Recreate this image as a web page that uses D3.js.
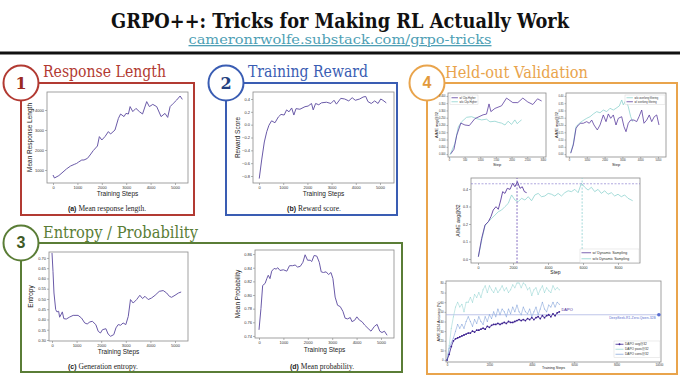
<!DOCTYPE html>
<html>
<head>
<meta charset="utf-8">
<script src="https://cdn.jsdelivr.net/npm/d3@7"></script>
<style>
body { margin: 0; background: #fff; }
svg { display: block; }
</style>
</head>
<body>
<svg id="chart" width="680" height="380"></svg>
<script>
// ---------- data ----------
const titleText = "GRPO++: Tricks for Making RL Actually Work";
const linkText = "cameronrwolfe.substack.com/grpo-tricks";

// (a) mean response length
const lenSteps = [0,60,240,410,550,720,870,970,1050,1180,1270,1410,1520,1650,1820,1900,2000,2130,2270,2360,2540,2680,2770,2910,2990,3090,3160,3270,3400,3540,3670,3840,3950,4090,4250,4430,4590,4700,4800,4930,5070,5210,5300];
const lenValues = [750,600,720,900,1050,1200,1280,1330,1400,1500,1500,1580,1750,1970,2200,2670,2500,2670,2920,2800,3000,3580,3800,3670,3830,3800,4170,3920,4080,3920,3800,4420,4170,4280,4170,3670,3830,3630,4170,4330,4500,4700,4530];

// (b) reward score
const rewSteps = [10,110,220,320,410,520,660,800,910,1040,1140,1240,1350,1440,1530,1690,1900,2030,2170,2240,2340,2470,2580,2790,2970,3100,3200,3380,3540,3710,3850,3980,4160,4300,4410,4500,4640,4780,4920,5030,5120,5260];
const rewValues = [-0.84,-0.55,-0.27,-0.11,-0.01,0.06,0.03,0.12,0.16,0.15,0.23,0.20,0.26,0.15,0.25,0.24,0.28,0.29,0.33,0.23,0.33,0.31,0.34,0.35,0.33,0.38,0.32,0.41,0.40,0.37,0.42,0.38,0.40,0.43,0.44,0.36,0.33,0.37,0.33,0.40,0.38,0.34];

// (c) generation entropy
const entSteps = [0,40,80,150,200,270,310,380,420,480,580,720,860,1060,1200,1330,1430,1540,1640,1780,1880,1970,2050,2190,2280,2380,2510,2600,2690,2790,2890,3000,3100,3190,3300,3440,3570,3680,3780,3910,4050,4190,4360,4520,4660,4770,4860,5000,5140,5250];
const entValues = [0.724,0.635,0.529,0.448,0.437,0.440,0.411,0.427,0.437,0.404,0.402,0.412,0.420,0.420,0.407,0.383,0.378,0.388,0.391,0.375,0.342,0.334,0.350,0.355,0.329,0.318,0.326,0.359,0.375,0.372,0.383,0.375,0.415,0.497,0.480,0.497,0.518,0.502,0.513,0.497,0.505,0.518,0.537,0.541,0.529,0.513,0.508,0.518,0.529,0.534];

// (d) mean probability
const probSteps = [0,80,150,250,320,380,450,520,620,700,770,860,1000,1140,1250,1380,1480,1580,1690,1800,1890,1990,2100,2160,2260,2370,2470,2550,2640,2750,2850,2950,3030,3120,3220,3330,3440,3530,3630,3740,3810,3920,4010,4120,4220,4330,4470,4590,4730,4840,4950,5040,5140,5250];
const probValues = [0.749,0.780,0.814,0.817,0.824,0.829,0.824,0.835,0.839,0.838,0.840,0.836,0.837,0.835,0.843,0.843,0.844,0.841,0.842,0.848,0.859,0.851,0.851,0.849,0.858,0.857,0.848,0.834,0.833,0.834,0.830,0.833,0.824,0.797,0.785,0.783,0.776,0.766,0.765,0.767,0.761,0.763,0.768,0.763,0.761,0.756,0.751,0.747,0.754,0.757,0.747,0.745,0.747,0.741];

// held-out: clip higher
const clipOnSteps = [60,160,250,380,510,650,830,1090,1200,1280,1340,1470,1680,1840,2040,2200,2360,2520,2680,2830,2960];
const clipOnValues = [0.002,0.033,0.130,0.213,0.200,0.196,0.244,0.270,0.275,0.345,0.292,0.314,0.332,0.385,0.354,0.354,0.385,0.358,0.341,0.380,0.365];
const clipOffSteps = [30,190,300,405,565,725,885,1045,1200,1310,1470,1575,1680,1790,1890,2000,2105,2180,2265,2320];
const clipOffValues = [-0.007,0.072,0.187,0.222,0.253,0.257,0.244,0.235,0.240,0.222,0.226,0.218,0.213,0.200,0.226,0.204,0.235,0.209,0.226,0.235];

// held-out: overlong filtering
const olOnSteps = [96,242,393,522,657,803,994,1140,1275,1404,1590,1742,1927,2079,2208,2343,2489,2640,2770,2960,3090,3202,3331,3466,3652,3803,3933,4084,4213,4365,4511,4646,4792,4927,5056];
const olOnValues = [0.006,0.063,0.177,0.200,0.212,0.212,0.223,0.212,0.234,0.200,0.166,0.200,0.269,0.223,0.276,0.246,0.269,0.200,0.246,0.257,0.188,0.154,0.212,0.234,0.234,0.223,0.257,0.303,0.212,0.234,0.269,0.223,0.257,0.269,0.200];
const olOffSteps = [96,242,393,579,770,994,1180,1365,1556,1742,1927,2118,2303,2489,2640,2826,2961,3051,3202,3331,3466,3579];
const olOffValues = [0.009,0.074,0.188,0.212,0.229,0.246,0.257,0.276,0.292,0.284,0.303,0.292,0.315,0.303,0.315,0.331,0.372,0.338,0.372,0.326,0.257,0.223];

// held-out: dynamic sampling
const dsOnSteps = [20,210,400,590,740,870,1030,1160,1300,1410,1540,1675,1830,1980,2110,2250,2400,2530,2650,2780];
const dsOnValues = [0.013,0.118,0.194,0.213,0.242,0.280,0.299,0.284,0.337,0.385,0.375,0.404,0.398,0.433,0.413,0.442,0.404,0.413,0.385,0.379];
const dsOffSteps = [20,210,400,590,780,970,1160,1350,1540,1730,1920,2110,2300,2490,2680,2870,3060,3250,3440,3630,3820,4010,4200,4390,4580,4770,4960,5150,5340,5530,5720,5910,6100,6290,6480,6670,6860,7050,7240,7430,7620,7810,8000,8190,8380,8570,8840];
const dsOffValues = [0.013,0.107,0.190,0.213,0.232,0.251,0.270,0.280,0.299,0.318,0.366,0.337,0.328,0.347,0.337,0.356,0.333,0.366,0.375,0.356,0.360,0.375,0.370,0.360,0.375,0.360,0.379,0.390,0.385,0.398,0.379,0.433,0.410,0.394,0.410,0.385,0.398,0.375,0.390,0.370,0.379,0.360,0.370,0.356,0.366,0.347,0.333];
const dsBestLevel = 0.43, dsOnBestStep = 2230, dsOffBestStep = 5950;

// DAPO accuracy (%)
const dapoSteps = [0,100,200,300,400,500,600,700,800,900,1000,1100,1200,1300,1400,1500,1600,1700,1800,1900,2000,2100,2200,2300,2400,2500,2600,2700,2800,2900,3000,3100,3200,3300,3400,3500,3600,3700,3800,3900,4000,4100,4200,4300,4400,4500,4600,4700,4800,4900,5000,5100,5200,5300];
const dapoAvg = [0,6,14,20,22,23,24,25,26,27,28,28,30,29,31,31,32,33,32,35,34,36,37,37,38,37,38,39,38,40,39,39,40,41,42,41,42,41,43,42,44,42,44,45,43,46,44,46,47,45,48,46,49,50];
const dapoPass = [0,15,33,45,55,60,55,58,50,60,60,65,60,68,65,70,65,73,77,70,77,73,70,75,70,73,77,72,75,70,73,78,75,80,80,75,80,78,73,75,67,73,75,68,73,77,70,75,72,70,77,73,75,73];
const dapoCons = [0,12,18,23,30,37,33,37,33,40,45,40,35,42,38,45,40,37,45,40,47,43,50,45,53,47,53,50,45,53,48,55,50,57,50,47,55,50,48,53,45,50,55,47,53,60,53,50,57,55,60,55,60,58];
const r1ZeroLevel = 47;

// ---------- drawing ----------
const svg = d3.select("#chart");
const SANS = "'Liberation Sans', Arial, sans-serif";
const SLAB = "'DejaVu Serif', serif";
const ROMAN = "'Liberation Serif', 'Times New Roman', serif";
const lineCol = "#6a5aa8", purple = "#5b3d9e", teal = "#8fd3cf";

svg.append("rect").attr("width", 680).attr("height", 380).attr("fill", "#fff");

// header
svg.append("text")
    .attr("x", 340).attr("y", 28)
    .attr("text-anchor", "middle")
    .attr("textLength", 458).attr("lengthAdjust", "spacingAndGlyphs")
    .style("font-family", SLAB).style("font-weight", "bold").style("font-size", "21px")
    .attr("fill", "#111")
    .text(titleText);
svg.append("text")
    .attr("x", 340).attr("y", 44)
    .attr("text-anchor", "middle")
    .attr("textLength", 303).attr("lengthAdjust", "spacingAndGlyphs")
    .style("font-family", SLAB).style("font-size", "13px")
    .style("text-decoration", "underline")
    .attr("fill", "#4f9fb5")
    .text(linkText);
svg.append("line")
    .attr("x1", 0).attr("x2", 680).attr("y1", 53).attr("y2", 53)
    .attr("stroke", "#111").attr("stroke-width", 3);

// panel boxes + numbered circles
const panels = [
    { num: "1", title: "Response Length", color: "#b23a32", numColor: "#9a2a22", box: [21, 83, 194, 215], tx: 43, ty: 77, tl: 123, numFont: SLAB },
    { num: "2", title: "Training Reward", color: "#3a5db3", numColor: "#24407f", box: [226, 83, 397, 215], tx: 248, ty: 77, tl: 120, numFont: SLAB },
    { num: "3", title: "Entropy / Probability", color: "#5a7d36", numColor: "#3e5a25", box: [21, 243, 402, 372], tx: 43, ty: 238, tl: 155, numFont: SANS },
    { num: "4", title: "Held-out Validation", color: "#e9a44c", numColor: "#e39a3c", box: [427, 83, 677, 374], tx: 445, ty: 78, tl: 143, numFont: SANS }
];

panels.forEach(p => {
    const [x0, y0, x1, y1] = p.box;
    svg.append("rect")
        .attr("x", x0).attr("y", y0).attr("width", x1 - x0).attr("height", y1 - y0)
        .attr("fill", "none").attr("stroke", p.color).attr("stroke-width", 2);
    svg.append("circle")
        .attr("cx", x0).attr("cy", y0).attr("r", 17.5)
        .attr("fill", "#fff").attr("stroke", p.color).attr("stroke-width", 2);
    svg.append("text")
        .attr("x", x0).attr("y", y0 + 1)
        .attr("text-anchor", "middle").attr("dominant-baseline", "middle")
        .style("font-family", p.numFont).style("font-weight", "bold").style("font-size", "16px")
        .attr("fill", p.numColor)
        .text(p.num);
    svg.append("text")
        .attr("x", p.tx).attr("y", p.ty)
        .attr("textLength", p.tl).attr("lengthAdjust", "spacingAndGlyphs")
        .style("font-family", SLAB).style("font-size", "16px")
        .attr("fill", p.color)
        .text(p.title);
});

// generic framed line chart
function frameChart(o) {
    const x = d3.scaleLinear().domain(o.xDomain).range([o.left, o.right]);
    const y = d3.scaleLinear().domain(o.yDomain).range([o.bottom, o.top]);
    const g = svg.append("g");

    const xa = g.append("g")
        .attr("transform", `translate(0,${o.bottom})`)
        .call(d3.axisBottom(x).tickValues(o.xTicks).tickFormat(d3.format("d")).tickSize(o.tick).tickPadding(1));
    const ya = g.append("g")
        .attr("transform", `translate(${o.left},0)`)
        .call(d3.axisLeft(y).tickValues(o.yTicks).tickFormat(d3.format(o.yFmt)).tickSize(o.tick).tickPadding(1));
    [xa, ya].forEach(a => {
        a.select(".domain").remove();
        a.selectAll("line").attr("stroke", "#666").attr("stroke-width", 0.5);
        a.selectAll("text").style("font-family", SANS).style("font-size", o.fs + "px").attr("fill", "#333");
    });

    g.append("rect")
        .attr("x", o.left).attr("y", o.top)
        .attr("width", o.right - o.left).attr("height", o.bottom - o.top)
        .attr("fill", "none").attr("stroke", "#8a8a8a").attr("stroke-width", 0.8);

    g.append("text")
        .attr("x", (o.left + o.right) / 2).attr("y", o.xLabelY)
        .attr("text-anchor", "middle")
        .style("font-family", SANS).style("font-size", o.lfs + "px").attr("fill", "#222")
        .text(o.xLabel);
    g.append("text")
        .attr("transform", `translate(${o.yLabelX},${(o.top + o.bottom) / 2}) rotate(-90)`)
        .attr("text-anchor", "middle")
        .style("font-family", SANS).style("font-size", o.lfs + "px").attr("fill", "#222")
        .text(o.yLabel);
    return { g, x, y };
}

function drawLine(c, xs, ys, color, width) {
    c.g.append("path")
        .datum(d3.zip(xs, ys))
        .attr("fill", "none").attr("stroke", color).attr("stroke-width", width)
        .attr("stroke-linejoin", "round")
        .attr("d", d3.line().x(d => c.x(d[0])).y(d => c.y(d[1])));
}

function caption(cx, cy, tag, txt) {
    const t = svg.append("text").attr("x", cx).attr("y", cy).attr("text-anchor", "middle").attr("fill", "#222");
    t.append("tspan").style("font-family", SANS).style("font-weight", "bold").style("font-size", "7px").text(tag + "  ");
    t.append("tspan").style("font-family", ROMAN).style("font-size", "7.5px").text(txt);
}

function legend(x, y, w, rowH, fs, items) {
    const g = svg.append("g");
    g.append("rect")
        .attr("x", x).attr("y", y).attr("width", w).attr("height", items.length * rowH + 1.5)
        .attr("fill", "#fff").attr("stroke", "#cfcfcf").attr("stroke-width", 0.4);
    items.forEach((it, i) => {
        const yy = y + 0.75 + rowH * (i + 0.5);
        g.append("line")
            .attr("x1", x + 1.5).attr("x2", x + 1.5 + rowH * 1.6).attr("y1", yy).attr("y2", yy)
            .attr("stroke", it.color).attr("stroke-width", 0.8);
        if (it.marker) {
            g.append("circle").attr("cx", x + 1.5 + rowH * 0.8).attr("cy", yy).attr("r", 0.9).attr("fill", it.color);
        }
        g.append("text")
            .attr("x", x + 3 + rowH * 1.6).attr("y", yy).attr("dy", "0.35em")
            .style("font-family", SANS).style("font-size", fs + "px").attr("fill", "#333")
            .text(it.label);
    });
}

const k5 = [0, 1000, 2000, 3000, 4000, 5000];

// (a) response length
const cA = frameChart({
    left: 47, right: 188, top: 92, bottom: 183,
    xDomain: [-246, 5533], yDomain: [350, 4900],
    xTicks: k5, yTicks: [1000, 2000, 3000, 4000], yFmt: "d",
    tick: 2, fs: 4, lfs: 6.5,
    xLabel: "Training Steps", xLabelY: 196, yLabel: "Mean Response Length", yLabelX: 32
});
drawLine(cA, lenSteps, lenValues, lineCol, 1);
caption(107, 211, "(a)", "Mean response length.");

// (b) reward
const cB = frameChart({
    left: 253, right: 394, top: 92, bottom: 183,
    xDomain: [-248, 5579], yDomain: [-0.909, 0.509],
    xTicks: k5, yTicks: [-0.8, -0.6, -0.4, -0.2, 0, 0.2, 0.4], yFmt: ".1f",
    tick: 2, fs: 4, lfs: 6.5,
    xLabel: "Training Steps", xLabelY: 196, yLabel: "Reward Score", yLabelX: 240
});
drawLine(cB, rewSteps, rewValues, lineCol, 1);
caption(314, 211, "(b)", "Reward score.");

// (c) entropy
const cC = frameChart({
    left: 49, right: 188, top: 252, bottom: 341,
    xDomain: [-122, 5528], yDomain: [0.295, 0.729],
    xTicks: k5, yTicks: [0.30, 0.35, 0.40, 0.45, 0.50, 0.55, 0.60, 0.65, 0.70], yFmt: ".2f",
    tick: 2, fs: 4, lfs: 6.5,
    xLabel: "Training Steps", xLabelY: 354, yLabel: "Entropy", yLabelX: 33
});
drawLine(cC, entSteps, entValues, lineCol, 1);
caption(103, 369, "(c)", "Generation entropy.");

// (d) probability
const cD = frameChart({
    left: 255, right: 394, top: 250, bottom: 338,
    xDomain: [-164, 5533], yDomain: [0.737, 0.866],
    xTicks: k5, yTicks: [0.74, 0.76, 0.78, 0.80, 0.82, 0.84, 0.86], yFmt: ".2f",
    tick: 2, fs: 4, lfs: 6.5,
    xLabel: "Training Steps", xLabelY: 352, yLabel: "Mean Probability", yLabelX: 240
});
drawLine(cD, probSteps, probValues, lineCol, 1);
caption(322, 369, "(d)", "Mean probability.");

// held-out: clip higher
const aimeTicks = [0, 0.05, 0.10, 0.15, 0.20, 0.25, 0.30, 0.35, 0.40];
const c4a = frameChart({
    left: 448, right: 546, top: 93, bottom: 157,
    xDomain: [-30, 3100], yDomain: [-0.02, 0.42],
    xTicks: [0, 500, 1000, 1500, 2000, 2500, 3000], yTicks: aimeTicks, yFmt: ".3f",
    tick: 1.5, fs: 2.6, lfs: 4,
    xLabel: "Step", xLabelY: 166, yLabel: "AIME avg@32", yLabelX: 438
});
drawLine(c4a, clipOffSteps, clipOffValues, teal, 0.8);
drawLine(c4a, clipOnSteps, clipOnValues, purple, 0.8);
legend(450, 95, 28, 4, 2.6, [
    { label: "w/ Clip-Higher", color: purple },
    { label: "w/o Clip-Higher", color: teal }
]);

// held-out: overlong filtering
const c4b = frameChart({
    left: 566, right: 666, top: 93, bottom: 157,
    xDomain: [-170, 5450], yDomain: [-0.02, 0.42],
    xTicks: k5, yTicks: aimeTicks, yFmt: ".2f",
    tick: 1.5, fs: 2.6, lfs: 4,
    xLabel: "Step", xLabelY: 166, yLabel: "AIME avg@32", yLabelX: 558
});
drawLine(c4b, olOffSteps, olOffValues, teal, 0.8);
drawLine(c4b, olOnSteps, olOnValues, purple, 0.8);
legend(625, 95, 40, 4, 2.6, [
    { label: "w/o overlong filtering", color: teal },
    { label: "w/ overlong filtering", color: purple }
]);

// held-out: dynamic sampling
const c4c = frameChart({
    left: 471, right: 640, top: 178, bottom: 263,
    xDomain: [-400, 9257], yDomain: [-0.023, 0.463],
    xTicks: [0, 2000, 4000, 6000, 8000], yTicks: [0, 0.1, 0.2, 0.3, 0.4], yFmt: ".1f",
    tick: 2, fs: 3.6, lfs: 5,
    xLabel: "Step", xLabelY: 274, yLabel: "AIME avg@32", yLabelX: 460
});
drawLine(c4c, dsOffSteps, dsOffValues, teal, 0.8);
drawLine(c4c, dsOnSteps, dsOnValues, purple, 0.9);
c4c.g.append("line")
    .attr("x1", c4c.x.range()[0]).attr("x2", c4c.x.range()[1])
    .attr("y1", c4c.y(dsBestLevel)).attr("y2", c4c.y(dsBestLevel))
    .attr("stroke", "#7a6cc8").attr("stroke-width", 0.6).attr("stroke-dasharray", "2,1.5");
c4c.g.append("line")
    .attr("x1", c4c.x(dsOnBestStep)).attr("x2", c4c.x(dsOnBestStep))
    .attr("y1", c4c.y.range()[0]).attr("y2", c4c.y.range()[1])
    .attr("stroke", "#6a4bb5").attr("stroke-width", 0.8).attr("stroke-dasharray", "2,1.5");
c4c.g.append("line")
    .attr("x1", c4c.x(dsOffBestStep)).attr("x2", c4c.x(dsOffBestStep))
    .attr("y1", c4c.y.range()[0]).attr("y2", c4c.y.range()[1])
    .attr("stroke", "#8fd0d0").attr("stroke-width", 0.8).attr("stroke-dasharray", "2,1.5");
legend(580, 249, 59, 6, 3.6, [
    { label: "w/ Dynamic Sampling", color: purple },
    { label: "w/o Dynamic Sampling", color: teal }
]);

// DAPO accuracy
const avgCol = "#3a1f8f", passCol = "#9fd9d6", consCol = "#8aa8dc";
const c4d = frameChart({
    left: 446, right: 661, top: 281, bottom: 362,
    xDomain: [-50, 10100], yDomain: [-2, 82],
    xTicks: [0, 2000, 4000, 6000, 8000, 10000], yTicks: [0, 10, 20, 30, 40, 50, 60, 70, 80], yFmt: "d",
    tick: 1.5, fs: 2.8, lfs: 3.6,
    xLabel: "Training Steps", xLabelY: 369, yLabel: "AIME 2024 Accuracy (%)", yLabelX: 440
});
c4d.g.append("line")
    .attr("x1", c4d.x.range()[0]).attr("x2", c4d.x.range()[1])
    .attr("y1", c4d.y(r1ZeroLevel)).attr("y2", c4d.y(r1ZeroLevel))
    .attr("stroke", "#a3acdf").attr("stroke-width", 0.7);
c4d.g.append("circle")
    .attr("cx", c4d.x(10000)).attr("cy", c4d.y(r1ZeroLevel)).attr("r", 1.8).attr("fill", "#5b6fd0");
c4d.g.append("text")
    .attr("x", c4d.x(9850)).attr("y", c4d.y(r1ZeroLevel) + 4)
    .attr("text-anchor", "end")
    .style("font-family", SANS).style("font-size", "3.4px").attr("fill", "#5b6fd0")
    .text("DeepSeek-R1-Zero-Qwen-32B");
drawLine(c4d, dapoSteps, dapoPass, passCol, 0.6);
drawLine(c4d, dapoSteps, dapoCons, consCol, 0.6);
drawLine(c4d, dapoSteps, dapoAvg, avgCol, 0.8);
[[dapoPass, passCol, 0.5], [dapoCons, consCol, 0.5], [dapoAvg, avgCol, 0.9]].forEach(([vals, col, r]) => {
    c4d.g.append("g").selectAll("circle")
        .data(d3.zip(dapoSteps, vals))
        .join("circle")
        .attr("cx", d => c4d.x(d[0])).attr("cy", d => c4d.y(d[1])).attr("r", r)
        .attr("fill", col);
});
c4d.g.append("text")
    .attr("x", c4d.x(5400)).attr("y", c4d.y(51))
    .style("font-family", SANS).style("font-size", "4px").attr("fill", "#4b2a9a")
    .text("DAPO");
legend(614, 341, 46, 5, 3.2, [
    { label: "DAPO avg@32", color: avgCol, marker: true },
    { label: "DAPO pass@32", color: passCol },
    { label: "DAPO cons@32", color: consCol }
]);
</script>
</body>
</html>
